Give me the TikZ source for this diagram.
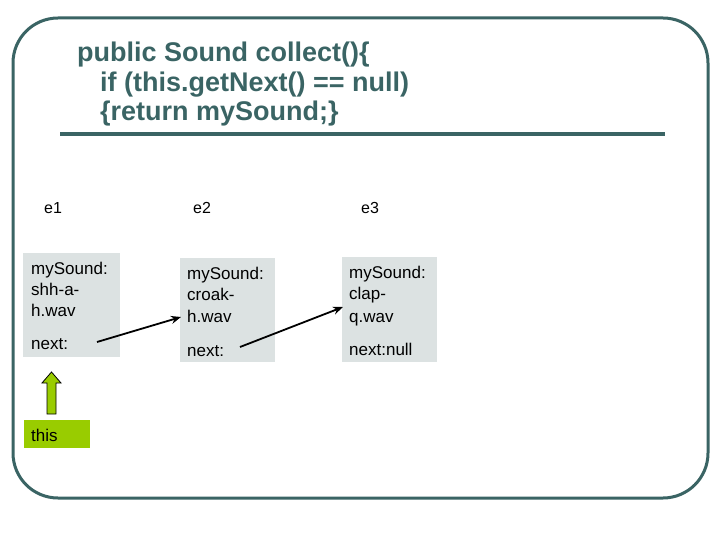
\documentclass[tikz,border=0pt]{standalone}
\usepackage{fontspec}
\setmainfont{Liberation Sans}
\usetikzlibrary{arrows.meta,shapes.arrows}
\definecolor{teal}{HTML}{3A6464}
\definecolor{boxfill}{HTML}{DCE2E2}
\definecolor{lime}{HTML}{99CC00}
\tikzset{
  code/.style={anchor=base west,inner sep=0pt,text=teal,font=\fontsize{27}{30}\selectfont\bfseries},
  lbl/.style={anchor=base west,inner sep=0pt,font=\fontsize{16}{18}\selectfont},
  cell/.style={fill=boxfill,draw=none},
  txt/.style={anchor=base west,inner sep=0pt,font=\fontsize{17}{21}\selectfont},
  ptr/.style={-{Stealth[length=10pt,width=8pt]},line width=1.8pt}
}
\begin{document}
\begin{tikzpicture}[x=1pt,y=-1pt]
\useasboundingbox (0,0) rectangle (720,540);
% frame
\draw[teal,line width=3pt,rounded corners=45pt] (13,18) rectangle (708,498);
\draw[teal,line width=3.5pt] (60,134) -- (665,134);
% code
\node[code] (l1) at (77,62) {public Sound collect()\{};
\node[code] (l2) at (100,92) {if (this.getNext() == null)};
\node[code] (l3) at (100,121) {\{return mySound;\}};
% labels
\node[lbl] (e1) at (44,214) {e1};
\node[lbl] (e2) at (193,214) {e2};
\node[lbl] (e3) at (361,214) {e3};
% boxes
\fill[cell] (23,253) rectangle (120,357);
\fill[cell] (180,258) rectangle (275,362);
\fill[cell] (342,257) rectangle (437,362);
\node[txt] (a1) at (31,274) {mySound:};
\node[txt] at (31,295) {shh-a-};
\node[txt] at (31,316) {h.wav};
\node[txt] (n1) at (31,349) {next:};
\node[txt] (a2) at (187,279) {mySound:};
\node[txt] at (187,300) {croak-};
\node[txt] (b2) at (187,322) {h.wav};
\node[txt] (n2) at (187,356) {next:};
\node[txt] (a3) at (349,278) {mySound:};
\node[txt] at (349,299) {clap-};
\node[txt] (b3) at (349,322) {q.wav};
\node[txt] (n3) at (349,355) {next:null};
% pointers
\coordinate (p1s) at (97,342);
\coordinate (p1e) at (181,317);
\coordinate (p2s) at (240,347);
\coordinate (p2e) at (343,307);
\draw[ptr] (p1s) -- (p1e);
\draw[ptr] (p2s) -- (p2e);
% this
\fill[lime] (24,420) rectangle (90,448);
\node[txt] (this) at (31,441) {this};
\draw[fill=lime,line width=0.8pt] (47,414) -- (47,383) -- (42,383) -- (51.5,372) -- (61,383) -- (56,383) -- (56,414) -- cycle;
\end{tikzpicture}
\end{document}
